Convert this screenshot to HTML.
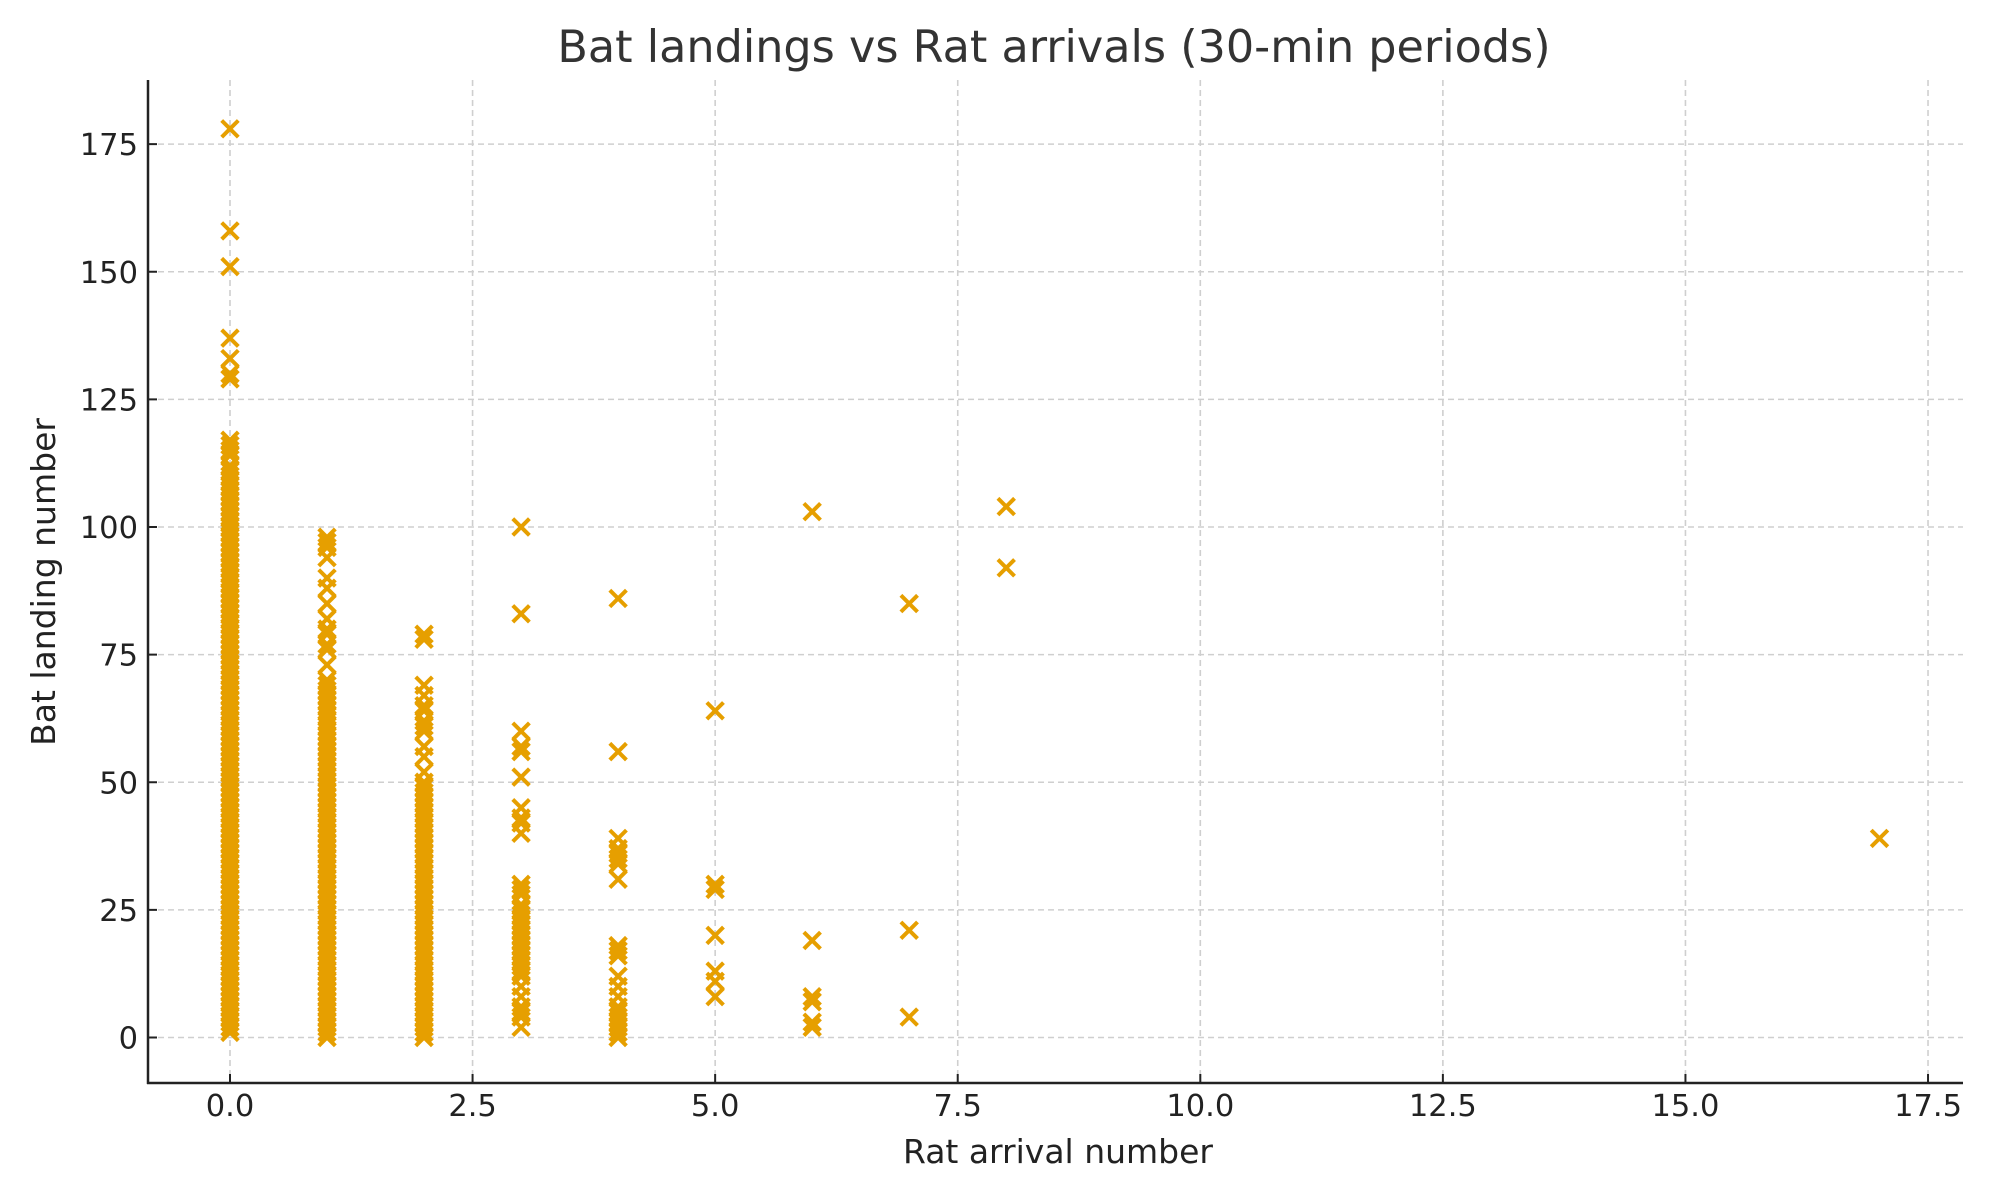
<!DOCTYPE html>
<html><head><meta charset="utf-8">
<style>
html,body{margin:0;padding:0;background:#fff;}
svg{display:block;font-family:"DejaVu Sans","Liberation Sans",sans-serif;}
</style></head>
<body>
<svg id="chart" width="2000" height="1200" viewBox="0 0 2000 1200">
<text x="1054" y="62" text-anchor="middle" font-size="44.5" fill="#333">Bat landings vs Rat arrivals (30-min periods)</text>
<text x="1058" y="1163" text-anchor="middle" font-size="33" fill="#222">Rat arrival number</text>
<text transform="translate(55,582) rotate(-90)" text-anchor="middle" font-size="33" fill="#222">Bat landing number</text>
<g id="grid"></g>
<g id="points"></g>
<g id="axes"></g>
</svg>
<script>
const xTicks = [0, 2.5, 5, 7.5, 10, 12.5, 15, 17.5];
const xTickLabels = ["0.0","2.5","5.0","7.5","10.0","12.5","15.0","17.5"];
const yTicks = [0, 25, 50, 75, 100, 125, 150, 175];
const yTickLabels = ["0","25","50","75","100","125","150","175"];
const ratCategories = [0, 1, 2, 3, 4, 5, 6, 7, 8, 17];
const bats0 = [];
for (let v = 1; v <= 112; v++) bats0.push(v);
bats0.push(114,115,116,117,129,130,133,137,151,158,178);
const bats1 = [];
for (let v = 0; v <= 70; v++) bats1.push(v);
bats1.push(73,76,77,79,80,82,85,88,90,94,96,97,98);
const bats2 = [];
for (let v = 0; v <= 50; v++) bats2.push(v);
bats2.push(52,55,57,60,61,62,64,65,67,69,78,79);
const bats3 = [2,4,5,6,8,10,12,13,14,15,16,17,18,19,20,21,22,23,24,25,26,28,29,30,40,42,43,45,51,56,57,60,83,100];
const bats4 = [0,1,2,3,4,5,6,8,10,12,16,17,18,31,34,35,36,37,39,56,86];
const bats5 = [8,11,13,20,29,30,64];
const bats6 = [2,3,7,8,19,103];
const bats7 = [4,21,85];
const bats8 = [92,104];
const bats17 = [39];
const batSeries = [bats0,bats1,bats2,bats3,bats4,bats5,bats6,bats7,bats8,bats17];

const X0 = 230, XU = 97.03, Y0 = 1037.5, YU = 5.105;
const L = 148, R = 1963, T = 80, B = 1083;
function xs(v){ return X0 + v*XU; }
function ys(v){ return Y0 - v*YU; }
const NS = "http://www.w3.org/2000/svg";
function mk(tag, attrs, parent){
  const e = document.createElementNS(NS, tag);
  for (const k in attrs) e.setAttribute(k, attrs[k]);
  parent.appendChild(e); return e;
}
const grid = document.getElementById('grid');
const axes = document.getElementById('axes');
const pts = document.getElementById('points');

xTicks.forEach((t,i)=>{
  const x = xs(t);
  const g = mk('line',{x1:x,x2:x,y1:T,y2:B,stroke:'#cfcfcf','stroke-width':1.6,'stroke-dasharray':'6,4'},grid);
  
  
  const tk = mk('line',{x1:x,x2:x,y1:B,y2:B-9,stroke:'#222','stroke-width':2},axes);
  
  
  const tx = mk('text',{x:x,y:B+33,'text-anchor':'middle','font-size':30.5,fill:'#222'},axes);
  tx.textContent = xTickLabels[i];
  
  
});
yTicks.forEach((t,i)=>{
  const y = ys(t);
  const g = mk('line',{x1:L,x2:R,y1:y,y2:y,stroke:'#cfcfcf','stroke-width':1.6,'stroke-dasharray':'6,4'},grid);
  
  
  const tk = mk('line',{x1:L,x2:L+9,y1:y,y2:y,stroke:'#222','stroke-width':2},axes);
  
  
  const tx = mk('text',{x:L-10,y:y+11,'text-anchor':'end','font-size':30.5,fill:'#222'},axes);
  tx.textContent = yTickLabels[i];
  
  
});
const sl = mk('line',{x1:L,x2:L,y1:T,y2:B+1,stroke:'#222','stroke-width':2.5},axes);


const sb = mk('line',{x1:L-1,x2:R,y1:B,y2:B,stroke:'#222','stroke-width':2.5},axes);



const s = 8.3;
ratCategories.forEach((rx,ci)=>{
  batSeries[ci].forEach(bv=>{
    const cx = xs(rx), cy = ys(bv);
    const p = mk('path',{d:`M${cx-s},${cy-s}L${cx+s},${cy+s}M${cx-s},${cy+s}L${cx+s},${cy-s}`,stroke:'#E69F00','stroke-width':4,fill:'none'},pts);
    
    
  });
});
</script>
</body></html>
